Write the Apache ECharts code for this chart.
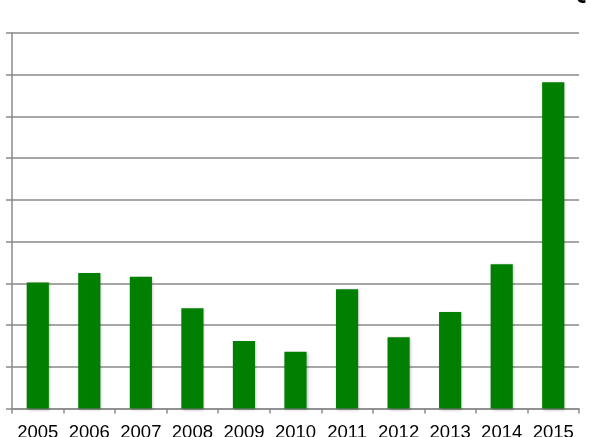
<!DOCTYPE html>
<html>
<head>
<meta charset="utf-8">
<script src="https://cdn.jsdelivr.net/npm/echarts@6/dist/echarts.min.js"></script>
<style>
html,body{margin:0;padding:0;background:#fff;}
#c{width:591px;height:437px;}
</style>
</head>
<body>
<div id="c"></div>
<script>
const categories = ['2005','2006','2007','2008','2009','2010','2011','2012','2013','2014','2015'];
const values = [3.02, 3.25, 3.16, 2.40, 1.62, 1.36, 2.86, 1.71, 2.31, 3.46, 7.82];
const yMin = 0, yMax = 9, yInterval = 1;

const chart = echarts.init(document.getElementById('c'), null, {renderer:'canvas'});
chart.setOption({
  animation:false,
  backgroundColor:'#fff',
  grid:{left:12, right:12, top:33, bottom:28.5, containLabel:false, outerBoundsMode:'none'},
  xAxis:{
    type:'category', data:categories,
    axisLine:{show:true, lineStyle:{color:'#8a8a8a', width:1.5}},
    axisTick:{show:true, length:5, alignWithLabel:false, lineStyle:{color:'#8a8a8a', width:1.5}},
    axisLabel:{color:'#000', fontSize:18.5, fontFamily:'Liberation Sans', margin:15, interval:0}
  },
  yAxis:{
    type:'value', min:yMin, max:yMax, interval:yInterval,
    axisLine:{show:true, lineStyle:{color:'#8a8a8a', width:1.5}},
    axisTick:{show:true, length:6, lineStyle:{color:'#8a8a8a', width:1.5}},
    axisLabel:{show:false},
    splitLine:{show:true, lineStyle:{color:'#8a8a8a', width:1.5}}
  },
  series:[{
    type:'bar', data:values, barWidth:'43%',
    itemStyle:{color:'#007f00', shadowColor:'rgba(0,0,0,0.25)', shadowBlur:3, shadowOffsetX:1, shadowOffsetY:1}
  }],
  graphic:[{
    type:'text', left:568, top:-22,
    style:{text:'Q', fontSize:26, fontWeight:'bold', fontFamily:'Liberation Sans', fill:'#000'}
  }]
});
</script>
</body>
</html>
